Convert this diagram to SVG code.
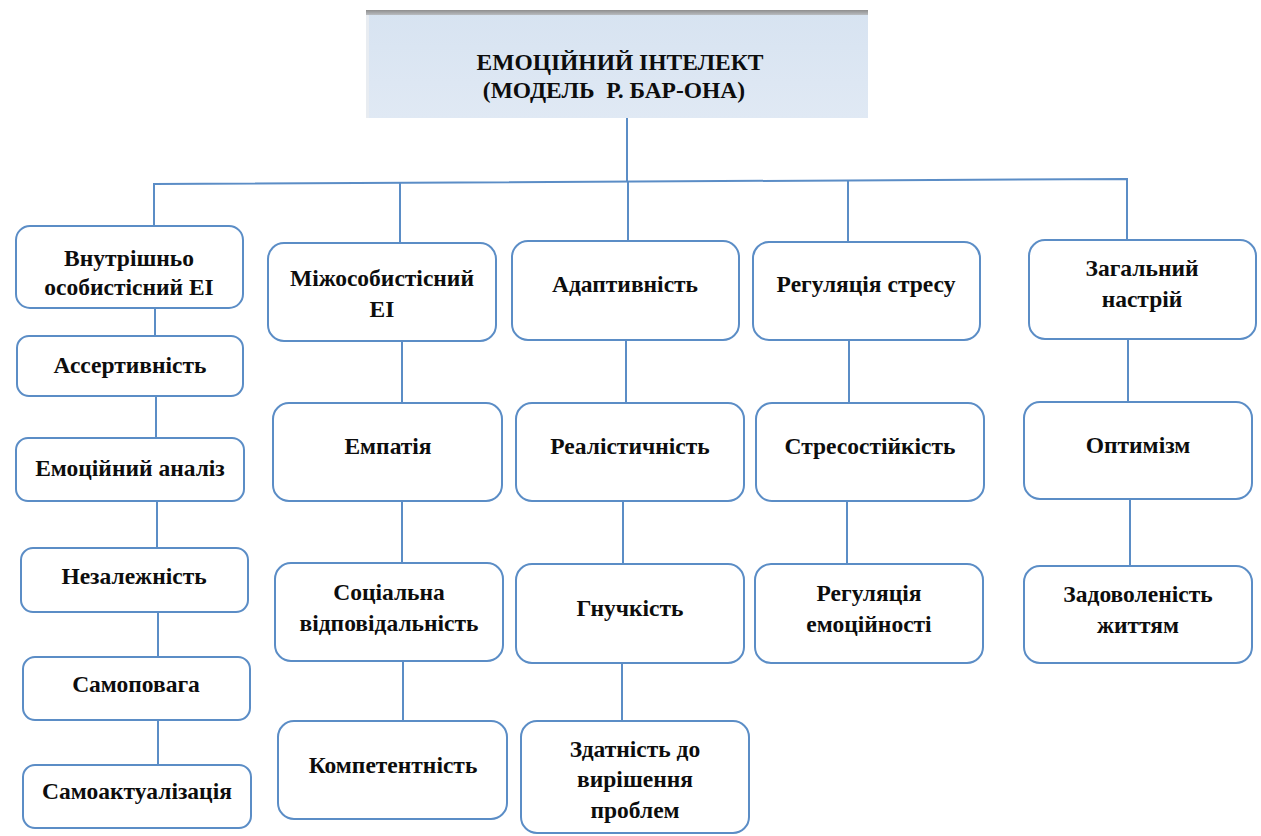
<svg xmlns="http://www.w3.org/2000/svg" width="1261" height="836" viewBox="0 0 1261 836">
<style>
.box{fill:#ffffff;stroke:#5b8dc6;stroke-width:2}
.ln{stroke:#5b8dc6;stroke-width:2;fill:none}
text{font-family:"Liberation Serif","Times New Roman",serif;font-weight:bold;font-size:23.5px;fill:#0d0d0d;text-anchor:middle}
</style>
<defs>
<linearGradient id="topg" x1="0" y1="0" x2="0" y2="1">
<stop offset="0" stop-color="#d7e3f1"/>
<stop offset="1" stop-color="#e0e9f4"/>
</linearGradient>
<linearGradient id="barg" x1="0" y1="0" x2="0" y2="1">
<stop offset="0" stop-color="#8e8e8e"/>
<stop offset="1" stop-color="#b9bcc0"/>
</linearGradient>
</defs>
<rect width="1261" height="836" fill="#ffffff"/>
<g id="connectors">
<path class="ln" d="M627 118 V182"/>
<path class="ln" d="M154 226 V184 L1127 179 V240"/>
<path class="ln" d="M400 183 V243"/>
<path class="ln" d="M628 182 V241"/>
<path class="ln" d="M848 181 V242"/>
<path class="ln" d="M155 308 V336"/>
<path class="ln" d="M156 396 V438"/>
<path class="ln" d="M157 500 V548"/>
<path class="ln" d="M158 612 V657"/>
<path class="ln" d="M158 720 V765"/>
<path class="ln" d="M402 341 V403"/>
<path class="ln" d="M402 501 V563"/>
<path class="ln" d="M403 661 V721"/>
<path class="ln" d="M626 340 V403"/>
<path class="ln" d="M623 501 V564"/>
<path class="ln" d="M622 663 V721"/>
<path class="ln" d="M849 340 V403"/>
<path class="ln" d="M847 501 V564"/>
<path class="ln" d="M1128 339 V402"/>
<path class="ln" d="M1130 499 V566"/>
</g>
<g id="root">
<rect x="366" y="12" width="502" height="106" fill="url(#topg)"/>
<rect x="366" y="10" width="502" height="5" fill="url(#barg)"/>
<rect x="366" y="15" width="3" height="103" fill="#e8ecf1"/>
<text x="620" y="70">ЕМОЦІЙНИЙ ІНТЕЛЕКТ</text>
<text x="614" y="98" xml:space="preserve">(МОДЕЛЬ  Р. БАР-ОНА)</text>
</g>
<g id="n-intra"><rect class="box" x="16" y="226" width="227" height="82" rx="14"/><text x="129" y="266">Внутрішньо</text><text x="129" y="295">особистісний ЕІ</text></g>
<g id="n-asert"><rect class="box" x="17" y="336" width="226" height="60" rx="12"/><text x="130" y="373">Ассертивність</text></g>
<g id="n-analiz"><rect class="box" x="16" y="438" width="228" height="63" rx="12"/><text x="130" y="476">Емоційний аналіз</text></g>
<g id="n-nezal"><rect class="box" x="21" y="548" width="227" height="64" rx="12"/><text x="134" y="584">Незалежність</text></g>
<g id="n-samopov"><rect class="box" x="23" y="657" width="227" height="63" rx="12"/><text x="136" y="692">Самоповага</text></g>
<g id="n-samoakt"><rect class="box" x="23" y="765" width="228" height="63" rx="12"/><text x="137" y="799">Самоактуалізація</text></g>
<g id="n-inter"><rect class="box" x="268" y="243" width="228" height="98" rx="16"/><text x="382" y="286">Міжособистісний</text><text x="382" y="317">ЕІ</text></g>
<g id="n-empat"><rect class="box" x="273" y="403" width="229" height="98" rx="16"/><text x="388" y="454">Емпатія</text></g>
<g id="n-social"><rect class="box" x="275" y="563" width="228" height="98" rx="16"/><text x="389" y="600">Соціальна</text><text x="389" y="631">відповідальність</text></g>
<g id="n-kompet"><rect class="box" x="278" y="721" width="229" height="98" rx="16"/><text x="393" y="773">Компетентність</text></g>
<g id="n-adapt"><rect class="box" x="512" y="241" width="227" height="99" rx="16"/><text x="625" y="292">Адаптивність</text></g>
<g id="n-realist"><rect class="box" x="516" y="403" width="228" height="98" rx="16"/><text x="630" y="454">Реалістичність</text></g>
<g id="n-gnuch"><rect class="box" x="516" y="564" width="228" height="99" rx="16"/><text x="630" y="616">Гнучкість</text></g>
<g id="n-zdatn"><rect class="box" x="521" y="721" width="228" height="112" rx="16"/><text x="635" y="757">Здатність до</text><text x="635" y="787">вирішення</text><text x="635" y="818">проблем</text></g>
<g id="n-stress"><rect class="box" x="753" y="242" width="227" height="98" rx="16"/><text x="866" y="292">Регуляція стресу</text></g>
<g id="n-stressst"><rect class="box" x="756" y="403" width="228" height="98" rx="16"/><text x="870" y="454">Стресостійкість</text></g>
<g id="n-regem"><rect class="box" x="755" y="564" width="228" height="99" rx="16"/><text x="869" y="601">Регуляція</text><text x="869" y="632">емоційності</text></g>
<g id="n-zagal"><rect class="box" x="1029" y="240" width="227" height="99" rx="16"/><text x="1142" y="276">Загальний</text><text x="1142" y="307">настрій</text></g>
<g id="n-optim"><rect class="box" x="1024" y="402" width="228" height="97" rx="16"/><text x="1138" y="453">Оптимізм</text></g>
<g id="n-zadov"><rect class="box" x="1024" y="566" width="228" height="97" rx="16"/><text x="1138" y="602">Задоволеність</text><text x="1138" y="633">життям</text></g>
</svg>
